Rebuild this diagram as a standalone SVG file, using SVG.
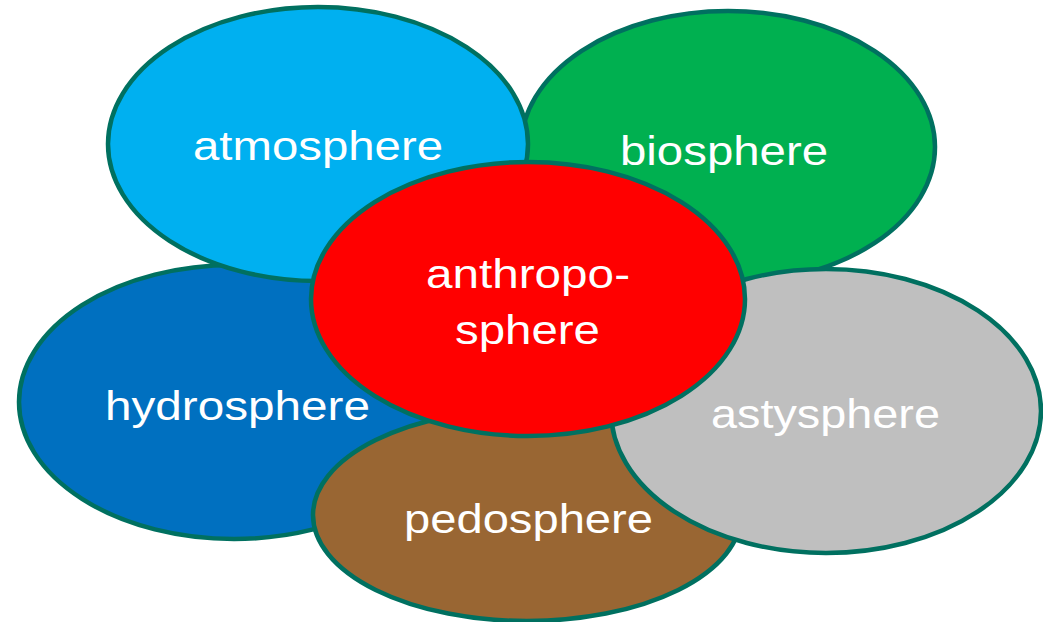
<svg xmlns="http://www.w3.org/2000/svg" width="1043" height="622" viewBox="0 0 1043 622">
<style>
.sph{stroke:#007060;stroke-width:4.5}
.lbl{font-family:"Liberation Sans",Arial,sans-serif;font-size:41px;fill:#ffffff;text-anchor:start}
</style>
<rect width="1043" height="622" fill="#ffffff"/>
<g id="biosphere">
<ellipse class="sph" cx="728" cy="147" rx="207" ry="136" fill="#00B050"/>
<text class="lbl" x="620" y="165" textLength="208" lengthAdjust="spacingAndGlyphs">biosphere</text>
</g>
<g id="hydrosphere">
<ellipse class="sph" cx="234" cy="402" rx="215" ry="137" fill="#0070C0"/>
<text class="lbl" x="105" y="420" textLength="265" lengthAdjust="spacingAndGlyphs">hydrosphere</text>
</g>
<g id="atmosphere">
<ellipse class="sph" cx="318" cy="144" rx="210" ry="137" fill="#00B0F0"/>
<text class="lbl" x="193" y="160" textLength="250" lengthAdjust="spacingAndGlyphs">atmosphere</text>
</g>
<g id="pedosphere">
<ellipse class="sph" cx="527" cy="515" rx="214" ry="106" fill="#996633"/>
<text class="lbl" x="404" y="533" textLength="249" lengthAdjust="spacingAndGlyphs">pedosphere</text>
</g>
<g id="astysphere">
<ellipse class="sph" cx="826" cy="411" rx="215" ry="142" fill="#BFBFBF"/>
<text class="lbl" x="711" y="428" textLength="229" lengthAdjust="spacingAndGlyphs">astysphere</text>
</g>
<g id="anthroposphere">
<ellipse class="sph" cx="528" cy="299" rx="217" ry="137" fill="#FF0000"/>
<text class="lbl" x="426" y="288" textLength="204" lengthAdjust="spacingAndGlyphs">anthropo-</text>
<text class="lbl" x="455" y="344" textLength="145" lengthAdjust="spacingAndGlyphs">sphere</text>
</g>
<g id="connectors"/>
</svg>
